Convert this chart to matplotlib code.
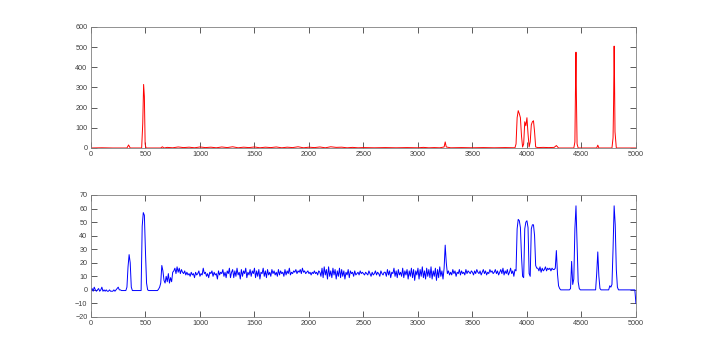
import numpy as np
import matplotlib
matplotlib.use("Agg")
import matplotlib.pyplot as plt

# ---------------- data ----------------
# Top (red) series: sparse points
red_x = [0, 100, 200, 330, 345, 360, 465, 475, 483, 490, 497, 505, 640, 655, 670,
         700, 750, 800, 850, 900, 950, 1000, 1050, 1100, 1150, 1200, 1250, 1300, 1350,
         1400, 1450, 1500, 1550, 1600, 1650, 1700, 1750, 1800, 1850, 1900, 1950, 2000,
         2050, 2100, 2150, 2200, 2250, 2300, 2350, 2400, 2450, 2500, 2600, 2700, 2800,
         2900, 3000, 3050, 3100, 3150, 3200, 3240, 3250, 3260, 3300, 3400, 3500, 3600,
         3700, 3800, 3890, 3900, 3910, 3920, 3930, 3940, 3950, 3960, 3970, 3980, 3990,
         4000, 4010, 4020, 4030, 4040, 4050, 4060, 4070, 4080, 4100, 4150, 4200, 4250,
         4270, 4290, 4430, 4440, 4446, 4450, 4454, 4460, 4470, 4640, 4650, 4660, 4780,
         4790, 4795, 4800, 4803, 4808, 4820, 5000]
red_y = [0, 1, 0, 0, 15, 0, 0, 120, 315, 255, 20, 0, 0, 6, 0,
         3, 1, 5, 2, 4, 1, 5, 2, 4, 1, 5, 2, 6, 1,
         4, 2, 5, 1, 4, 2, 5, 1, 4, 2, 6, 1, 4,
         2, 5, 1, 6, 3, 4, 1, 3, 1, 2, 1, 2, 1,
         2, 1, 3, 1, 2, 1, 5, 30, 5, 1, 2, 1, 2,
         1, 2, 1, 20, 150, 185, 170, 150, 60, 5, 20, 130, 110,
         150, 70, 5, 30, 115, 130, 135, 80, 5, 2, 3, 2, 3,
         12, 0, 0, 30, 330, 475, 250, 20, 0, 0, 14, 0, 0,
         50, 220, 505, 380, 80, 0, 0]

# Bottom (blue) series: one value per 10 units from 0 to 5000
blue_step = 10
blue_y = [
    # 0 - 690
    0, 1, -1, 2, 0, -1, 0, 1, -1, 0,
    2, -1, 0, -1, 0, -1, -1, 0, -1, -1,
    -1, 0, -1, 0, 1, 2, 0, 0, -0.5, -0.5,
    -0.5, -0.5, -0.5, 2, 17, 26, 20, 2, -0.5, -0.5,
    -0.5, -0.5, -0.5, -0.5, -0.5, -0.5, -0.5, 47, 57, 55,
    28, 5, 0, -0.5, -0.5, -0.5, -0.5, -0.5, -0.5, -0.5,
    -0.5, -0.5, 0.5, 2, 5, 18, 14, 7, 5, 10,
    # 700 - 890
    6, 12, 5, 9, 6, 13, 14, 16, 12, 17, 13, 16, 12, 15, 13, 12, 14, 11, 13, 11,
    # 900 - 1090
    12, 10, 13, 11, 12, 9, 13, 11, 12, 14, 10, 12, 11, 16, 12, 13, 10, 12, 9, 13,
    # 1100 - 1290
    12, 14, 10, 13, 11, 12, 8, 14, 11, 13, 12, 15, 10, 13, 9, 14, 12, 16, 9, 13,
    # 1300 - 1490
    15, 9, 14, 10, 16, 11, 13, 8, 15, 10, 14, 12, 16, 9, 13, 11, 15, 10, 14, 12,
    # 1500 - 1690
    16, 9, 14, 10, 15, 8, 13, 12, 16, 10, 14, 9, 15, 11, 13, 10, 15, 12, 14, 11,
    # 1700 - 1890
    13, 10, 15, 11, 14, 12, 13, 10, 15, 11, 14, 12, 16, 11, 13, 12, 14, 13, 15, 12,
    # 1900 - 2090
    14, 13, 15, 12, 16, 13, 14, 12, 13, 14, 12, 13, 11, 13, 12, 14, 12, 13, 11, 14,
    # 2100 - 2290
    13, 10, 16, 9, 17, 11, 15, 8, 17, 10, 14, 9, 16, 11, 15, 8, 14, 10, 16, 9,
    # 2300 - 2490
    15, 10, 14, 8, 13, 11, 15, 9, 14, 12, 13, 10, 14, 11, 12, 13, 11, 14, 12, 13,
    # 2500 - 2690
    12, 11, 13, 12, 11, 14, 12, 10, 13, 11, 12, 14, 11, 13, 12, 10, 14, 12, 11, 13,
    # 2700 - 2890
    13, 10, 15, 11, 14, 9, 13, 12, 16, 10, 14, 9, 15, 11, 13, 10, 16, 9, 14, 11,
    # 2900 - 3090
    15, 8, 14, 10, 16, 9, 15, 7, 14, 11, 16, 8, 15, 10, 17, 9, 14, 8, 16, 10,
    # 3100 - 3290
    15, 9, 17, 8, 14, 10, 16, 7, 15, 9, 17, 10, 14, 8, 16, 33, 20, 12, 14, 11,
    # 3300 - 3490
    13, 11, 15, 12, 14, 10, 13, 12, 15, 11, 14, 12, 13, 11, 15, 12, 14, 13, 12, 14,
    # 3500 - 3690
    13, 11, 14, 12, 15, 13, 12, 14, 11, 13, 15, 12, 14, 11, 13, 12, 15, 13, 14, 12,
    # 3700 - 3890
    13, 15, 12, 14, 11, 13, 15, 12, 16, 11, 14, 12, 15, 11, 13, 16, 12, 14, 10, 15,
    # 3900 - 4090
    14, 45, 52, 51, 46, 25, 10, 9, 45, 50, 51, 46, 12, 10, 45, 48, 48, 40, 18, 16,
    # 4100 - 4290
    16, 14, 17, 13, 16, 14, 15, 17, 14, 16, 15, 16, 14, 16, 15, 15, 16, 29, 12, 3,
    # 4300 - 4490
    1, 0, 0, 0, 0, 0, 0, 0, 0, 0, 1, 21, 4, 8, 45, 62, 35, 6, 1, 0,
    # 4500 - 4690
    0, 0, 0, 0, 0, 0, 0, 0, 0, 0, 0, 0, 0, 0, 12, 28, 10, 1, 0, 0,
    # 4700 - 4890
    0, 0, 0, 0, 0, 0, 3, 2, 4, 30, 62, 48, 15, 2, 0, 0, 0, 0, 0, 0,
    # 4900 - 5000
    0, 0, 0, 0, 0, 0, 0, 0, 0, 0, -10,
]
blue_x = np.arange(len(blue_y)) * blue_step

x_ticks = list(range(0, 5001, 500))
top_yticks = list(range(0, 601, 100))
bot_yticks = list(range(-20, 71, 10))

plt.rcParams["font.family"] = ["Liberation Sans", "DejaVu Sans"]

# ---------------- figure ----------------
fig = plt.figure(figsize=(7.03, 3.56), dpi=100)
ax1 = fig.add_axes([0.1294, 0.5843, 0.7752, 0.340])
ax2 = fig.add_axes([0.1294, 0.1096, 0.7752, 0.3427])

ax1.plot(red_x, red_y, color="#ff0000", lw=0.7)
ax2.plot(blue_x, blue_y, color="#0000ff", lw=0.7)

for ax, yt in ((ax1, top_yticks), (ax2, bot_yticks)):
    ax.set_xlim(0, 5000)
    ax.set_ylim(yt[0], yt[-1])
    ax.set_xticks(x_ticks)
    ax.set_yticks(yt)
    ax.tick_params(direction="in", length=4, width=0.6, top=True, right=True,
                   labelsize=5.2, colors="#404040", pad=2.5)
    for s in ax.spines.values():
        s.set_color("#808080")
        s.set_linewidth(0.6)

fig.savefig("out.png", dpi=100, facecolor="white")
